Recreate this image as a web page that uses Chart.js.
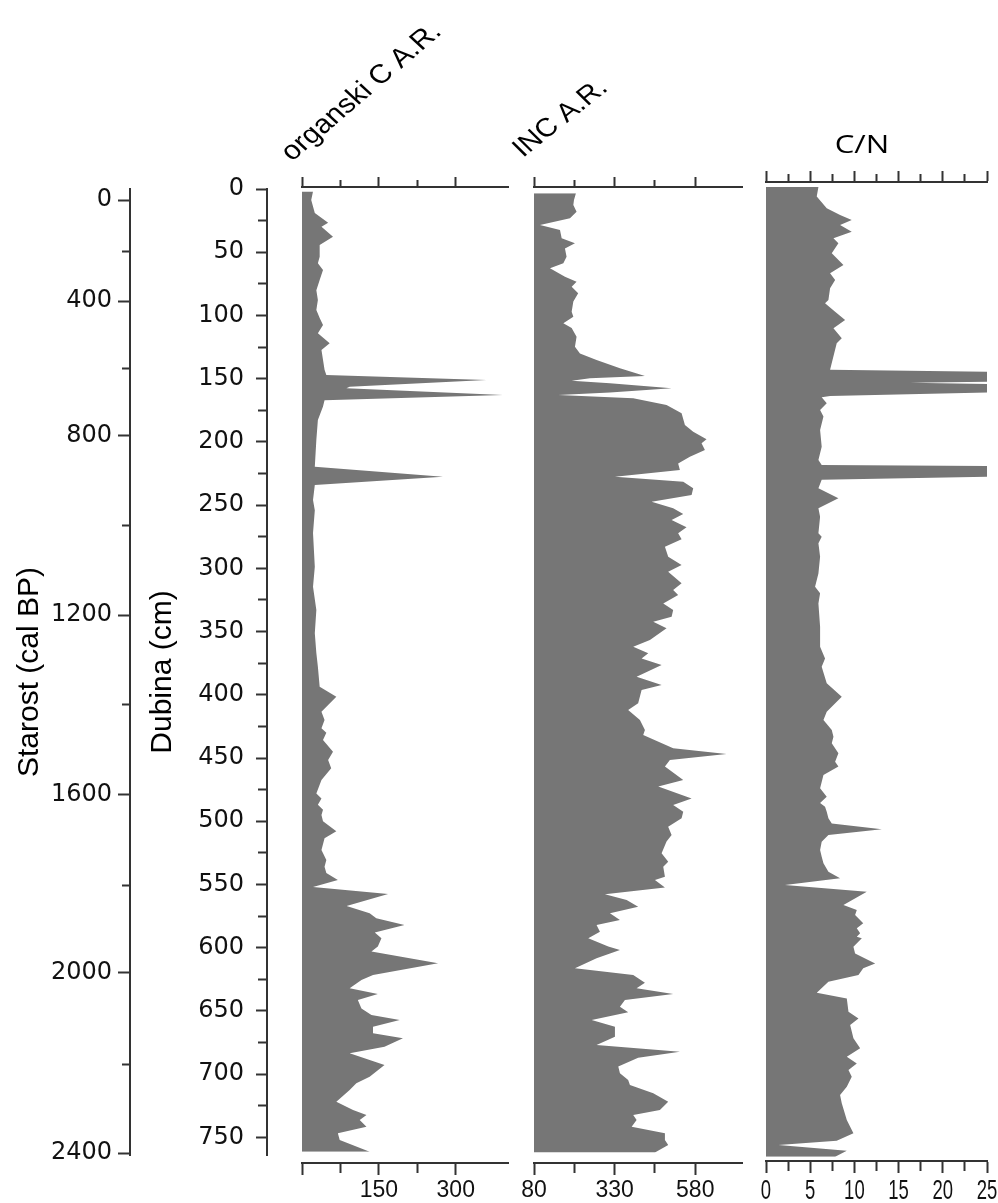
<!DOCTYPE html>
<html>
<head>
<meta charset="utf-8">
<script src="https://cdn.jsdelivr.net/npm/chart.js@4.4.1/dist/chart.umd.min.js"></script>
<style>
html,body{margin:0;padding:0;background:#fff;overflow:hidden;}
#wrap{position:relative;width:998px;height:1203px;background:#fff;}
#wrap canvas{position:absolute;left:0;top:0;}
</style>
</head>
<body>
<div id="wrap">
<canvas id="cAxes" width="998" height="1203"></canvas>
<canvas id="cOrg" width="998" height="1203"></canvas>
<canvas id="cInc" width="998" height="1203"></canvas>
<canvas id="cCN" width="998" height="1203"></canvas>
</div>
<script>
// ---------------- DATA ----------------
// Age axis (cal BP) and the depth (cm) at which each age tick sits (age-depth model)
const ageTickValues = [0, 200, 400, 600, 800, 1000, 1200, 1400, 1600, 1800, 2000, 2200, 2400];
const ageTickDepths = [8.7, 49.8, 88.6, 142.3, 195.1, 266.5, 336.9, 407.5, 479.2, 551.2, 620.0, 692.0, 762.4];
const ageLabelStep = 400;

// Depth axis ticks (cm)
const depthTickValues = [0,25,50,75,100,125,150,175,200,225,250,275,300,325,350,375,400,425,450,475,500,525,550,575,600,625,650,675,700,725,750];
const depthLabelStep = 50;

// organski C A.R.
const orgDepth = [2,8.7,19,26.6,29.8,37.7,44.3,53.5,58.8,64,72,80,87.8,95.7,102,107.5,114,122,127.3,143,147,151,156.3,157.6,163,167,172,182.7,198.5,219.6,227.5,234,246,254,272,298.7,314.5,333,351.4,367,377.8,393.6,401.5,413.4,420,426.5,430,435.7,445,451.5,458,467.4,478,482,487,491,495,500,508,513.5,522.7,530.6,536,541,546.5,552,557.5,567,572.8,576.8,582,588,592.6,599,603,612.3,621.6,625.5,632,636.6,641.4,648,653.2,657.2,662.5,667.7,671.6,678.3,683.5,692.8,702,707.2,712.5,721.8,728.3,732.3,736.3,741.6,746.8,752,761.3];
const orgValue = [21.5,18,25,51,38,60.5,34.5,34.5,31,41,34.5,28,31,28,34.5,41,31,54,38,44,47.5,360,93,86.7,392,44,41,31,28,25,275,25,21.5,25,21.5,25,21.5,28,25,28,31,34.5,67,38,44,38,47.5,41,60.5,51,57,38,28,38,31,41,38,41,67,44,38,47.5,44,47.5,70,21.5,168,87,132,145,200,142,155,148,135.5,265.5,138.6,116,93,148,109,116,135.5,190.7,138.6,138.6,197,161,93,161,132,106,93,67,99.6,125.8,112.6,125.8,70,73.6,132];
const orgTickValues = [0, 75, 150, 225, 300];
const orgTickLabels = ['', '', '150', '', '300'];

// INC A.R.
const incDepth = [3.4,8.7,12.7,17.9,23.2,28.5,32.4,39,43,47,53.5,58.8,62.7,69.3,73.3,77.3,82.5,89,97,101,106.2,110,116.8,124.7,130,135.2,141.8,147.9,149.7,151.6,153.6,157.6,161,163,165.5,170.8,177.4,186.6,192,198,201,206.4,211.7,217,222.2,227.5,231.5,236.7,242,247.3,252.5,257,261.8,267.5,272.3,277,282.9,290.8,297.4,302.7,311.8,317.1,321,327.7,333,338.2,342.2,347.4,356.6,362,367.2,371.2,376.4,385.7,392.3,396.2,406.7,412,420,427.8,431.8,442.3,446.8,451.5,456.8,467.4,472.6,482,487.2,492.5,497.7,504.3,510.9,516,525.4,532,536,543.8,546.5,552.3,557.8,562.3,567.6,572.8,578,582,587.3,592.6,599,601.8,608.4,616.3,621.6,627.7,632,636.6,641.4,646.7,651.1,657.2,662.5,670.4,677,682.2,687,694,699.3,704.6,708.6,715.1,721.8,728.3,732.3,736.3,741.6,746.8,752,756,762];
const incValue = [210,204,202,212,191.6,98.6,160.6,165.8,207,176,181,171,129.6,176,212,196.8,217,202,196.8,202,171,196.8,212,207,222.5,274,346.5,424,253.5,196.8,315.5,506.7,315.5,155.3,387.7,491,537.7,548,573.7,615,599.6,610,563.4,527,532.4,331,542.8,573.7,568.7,444.7,511.6,542.8,506.7,553,527,537.7,486,496.2,537.7,496,537.7,511.6,527,480.8,511.6,506.7,449.8,491,439.5,387.7,434.3,413.7,475.7,398.2,475.7,413.7,403,372,408.5,424,418.7,511.6,677,501.4,486,542.8,465.3,568.7,511.6,542.8,537.7,496,506.7,491,475.7,496.2,480.8,486,455,486,300,367.3,403,315.5,346.5,274,284.5,248.3,310.3,346.5,274,207,387.7,424,398.2,511.6,362,346.5,372,258.8,331,331,274,532.4,403,341.3,346.5,372,377.5,449.8,496.2,470.5,387.7,398.2,382.8,486,486,496.2,455];
const incTickValues = [80, 205, 330, 455, 580];
const incTickLabels = ['80', '', '330', '', '580'];

// C/N
const cnDepth = [-1.5,6,15.3,20.6,24.5,28.5,33.8,39,43,50.9,60.1,66.7,72,78.5,87.8,90.4,97,103.6,110.2,118,122,143,144.5,152.5,153.2,154.2,161,163.7,164.7,169.5,174.8,180,190.6,203.8,214.3,218.3,219,227.5,230,236.7,244.6,252.5,259.1,272.3,275,280.2,290.8,304,314.5,319.7,327.7,346.1,362,371.2,377.8,390.9,401.5,413.4,420,427.8,433.1,438.4,446.3,452.9,456.8,463.4,474,480.6,485.6,488.5,492.5,497.7,501.7,506.4,510.9,516.2,522.7,528,533.3,539.9,545.1,550.4,555.7,566.2,570.2,574.1,580.7,584.7,588.6,591.3,592.6,599.2,604.5,612.4,616.3,621.6,626.9,635.6,640.1,650.6,655.9,661.1,671.7,679.6,686.2,691.5,696.7,702,709.9,716.5,723.1,736.3,746.8,752.6,756,760.5,765.3];
const cnValue = [5.93,5.74,6.87,8.38,9.7,8.38,9.7,7.63,8.19,7.44,8.76,7.25,7.82,7.25,7.06,6.68,7.82,8.95,7.63,8.57,8.0,7.25,25,25,16.3,25,25,7.25,6.3,6.87,6.12,6.5,6.12,6.3,5.93,6.3,25,25,6.3,5.93,8.19,5.93,6.12,5.93,6.3,5.93,6.12,5.93,5.55,6.12,5.93,6.12,6.12,6.68,6.3,6.87,8.57,6.87,6.5,7.44,7.63,7.44,8.19,7.82,8.19,6.5,6.12,6.87,6.12,6.68,6.87,7.06,7.44,13.1,7.06,6.3,6.12,6.3,6.5,7.06,8.38,2.15,11.4,8.76,10.27,10.08,11.0,10.27,10.65,10.27,10.84,9.89,10.08,12.35,11.0,10.46,7.06,5.74,9.14,9.33,10.46,9.52,9.89,10.65,9.14,10.27,9.33,9.7,9.14,8.38,8.57,9.14,9.89,8.0,1.4,9.14,7.82];
const cnTickValues = [0, 2.5, 5, 7.5, 10, 12.5, 15, 17.5, 20, 22.5, 25];
const cnTickLabels = ['0', '', '5', '', '10', '', '15', '', '20', '', '25'];

// ---------------- STYLE / LAYOUT ----------------
const W = 998, H = 1203;
const FILL = '#767676';
const AXIS = '#333333';
const TXT = '#111111';
const DEPTH0_PX = 189;      // pixel row of depth 0
const PX_PER_CM = 1.2645;   // vertical scale
const pxToDepth = p => (p - DEPTH0_PX) / PX_PER_CM;

Chart.defaults.font.family = '"Liberation Sans", Arial, sans-serif';
Chart.defaults.color = TXT;

function minorDash(len, minorLen, outwardFirst) {
  return ctx => (ctx.index % 2 === 0) ? [] : (outwardFirst ? [0, len - minorLen, minorLen, 100] : [minorLen, 100]);
}

function textPlugin(id, items) {
  return {
    id: id,
    afterDraw(chart) {
      const c = chart.ctx;
      items.forEach(t => {
        c.save();
        c.translate(t.x, t.y);
        c.scale(t.sx || 1, 1);
        c.rotate(-(t.angle || 0) * Math.PI / 180);
        c.font = t.font;
        c.fillStyle = '#000';
        c.textAlign = t.align || 'left';
        c.textBaseline = 'alphabetic';
        c.fillText(t.text, 0, 0);
        c.restore();
      });
    }
  };
}

// condensed tick labels drawn at the positions given by the chart's own x scale
function squeezedLabelsPlugin(id, values, labels, opts) {
  return {
    id: id,
    afterDraw(chart) {
      const c = chart.ctx, sc = chart.scales.x;
      c.save();
      c.font = opts.font;
      c.fillStyle = TXT;
      c.textAlign = 'center';
      c.textBaseline = 'alphabetic';
      values.forEach((v, i) => {
        if (!labels[i]) return;
        c.save();
        c.translate(sc.getPixelForValue(v), opts.baseline);
        c.scale(opts.sx, 1);
        c.fillText(labels[i], 0, 0);
        c.restore();
      });
      c.restore();
    }
  };
}

// ---------------- AXES CHART (age + depth) ----------------
new Chart(document.getElementById('cAxes'), {
  type: 'line',
  data: { datasets: [] },
  options: {
    responsive: false, animation: false,
    layout: { padding: { left: 0, right: 0, top: DEPTH0_PX, bottom: H - 1155 } },
    plugins: { legend: { display: false }, tooltip: { enabled: false } },
    scales: {
      x: { type: 'linear', display: false },
      yAge: {
        type: 'linear', position: 'left', weight: 2, reverse: true,
        min: 0, max: pxToDepth(1155),
        afterBuildTicks: s => { s.ticks = ageTickDepths.map(v => ({ value: v })); },
        afterFit: s => { s.width = 130; },
        border: { display: true, color: AXIS, width: 2 },
        grid: { drawOnChartArea: false, drawTicks: true, tickLength: 12, tickWidth: 2, tickColor: AXIS,
                tickBorderDash: minorDash(12, 8, true) },
        ticks: { autoSkip: false, padding: 6, color: TXT,
                 font: { family: '"DejaVu Sans"', size: 24 },
                 callback: (v, i) => (ageTickValues[i] % ageLabelStep === 0 ? String(ageTickValues[i]) : '') },
        title: { display: true, text: 'Starost (cal BP)', color: '#000', padding: 12,
                 font: { family: '"Liberation Sans"', size: 30 } }
      },
      yDepth: {
        type: 'linear', position: 'left', weight: 1, reverse: true,
        min: 0, max: pxToDepth(1155),
        afterBuildTicks: s => { s.ticks = depthTickValues.map(v => ({ value: v })); },
        afterFit: s => { s.width = 137; },
        border: { display: true, color: AXIS, width: 2 },
        grid: { drawOnChartArea: false, drawTicks: true, tickLength: 11, tickWidth: 2, tickColor: AXIS,
                tickBorderDash: minorDash(11, 9, true) },
        ticks: { autoSkip: false, padding: 12, color: TXT,
                 font: { family: '"DejaVu Sans"', size: 24 },
                 callback: v => (v % depthLabelStep === 0 ? String(v) : '') },
        title: { display: true, text: 'Dubina (cm)', color: '#000', padding: 15,
                 font: { family: '"Liberation Sans"', size: 30 } }
      }
    }
  }
});

// ---------------- PANEL CHARTS ----------------
function panelChart(id, p) {
  const plugins = [textPlugin(id + 'Title', p.titles)];
  if (p.squeeze) plugins.push(squeezedLabelsPlugin(id + 'Sq', p.ticks, p.labels, p.squeeze));
  return new Chart(document.getElementById(id), {
    type: 'line',
    data: {
      datasets: [{
        data: p.depth.map((d, i) => ({ x: p.value[i], y: d })),
        fill: { value: p.min }, backgroundColor: FILL, borderWidth: 0, borderColor: FILL,
        pointRadius: 0, tension: 0
      }]
    },
    options: {
      responsive: false, animation: false, indexAxis: 'y',
      layout: { padding: { left: p.left, right: W - p.right, top: 0, bottom: 0 } },
      plugins: { legend: { display: false }, tooltip: { enabled: false } },
      scales: {
        y: { type: 'linear', display: false, reverse: true,
             min: pxToDepth(p.topY), max: pxToDepth(p.bottomY) },
        x: {
          type: 'linear', position: 'bottom', min: p.min, max: p.max,
          afterBuildTicks: s => { s.ticks = p.ticks.map(v => ({ value: v })); },
          afterFit: s => { s.height = H - p.bottomY; },
          border: { display: true, color: AXIS, width: 2 },
          grid: { drawOnChartArea: false, drawTicks: true, tickLength: 12, tickWidth: 2, tickColor: AXIS,
                  tickBorderDash: minorDash(12, 9, false) },
          ticks: { display: !p.squeeze, autoSkip: false, maxRotation: 0, minRotation: 0, padding: p.labelPad, color: TXT,
                   font: p.tickFont, callback: (v, i) => p.labels[i] }
        },
        xTop: {
          type: 'linear', position: 'top', min: p.min, max: p.max,
          afterBuildTicks: s => { s.ticks = p.ticks.map(v => ({ value: v })); },
          afterFit: s => { s.height = p.topY; },
          border: { display: true, color: AXIS, width: 2 },
          grid: { drawOnChartArea: false, drawTicks: true, tickLength: p.topTick, tickWidth: 2, tickColor: AXIS,
                  tickBorderDash: minorDash(p.topTick, p.topMinor, true) },
          ticks: { display: false }
        }
      }
    },
    plugins: plugins
  });
}

panelChart('cOrg', {
  depth: orgDepth, value: orgValue, ticks: orgTickValues, labels: orgTickLabels,
  min: 0, max: 402, left: 302, right: 508, topY: 187, bottomY: 1163,
  topTick: 10, topMinor: 7, labelPad: 2,
  tickFont: { family: '"Liberation Sans"', size: 23 },
  titles: [{ text: 'organski C A.R.', x: 292, y: 162, sx: 1.13, angle: 44, font: '26.5px "Liberation Sans"' }]
});

panelChart('cInc', {
  depth: incDepth, value: incValue, ticks: incTickValues, labels: incTickLabels,
  min: 80, max: 725, left: 534, right: 742, topY: 187, bottomY: 1163,
  topTick: 10, topMinor: 7, labelPad: 2,
  tickFont: { family: '"Liberation Sans"', size: 23 },
  titles: [{ text: 'INC A.R.', x: 523, y: 158, sx: 1.13, angle: 42, font: '26px "Liberation Sans"' }]
});

panelChart('cCN', {
  depth: cnDepth, value: cnValue, ticks: cnTickValues, labels: cnTickLabels,
  min: 0, max: 25, left: 766, right: 987, topY: 182, bottomY: 1161,
  topTick: 11, topMinor: 8, labelPad: 1,
  tickFont: { family: '"Liberation Sans"', size: 26 },
  squeeze: { font: '28px "Liberation Sans"', sx: 0.66, baseline: 1199 },
  titles: [{ text: 'C/N', x: 862, y: 153, sx: 1.2, angle: 0, align: 'center', font: '26px "Open Sans"' }]
});
</script>
</body>
</html>
